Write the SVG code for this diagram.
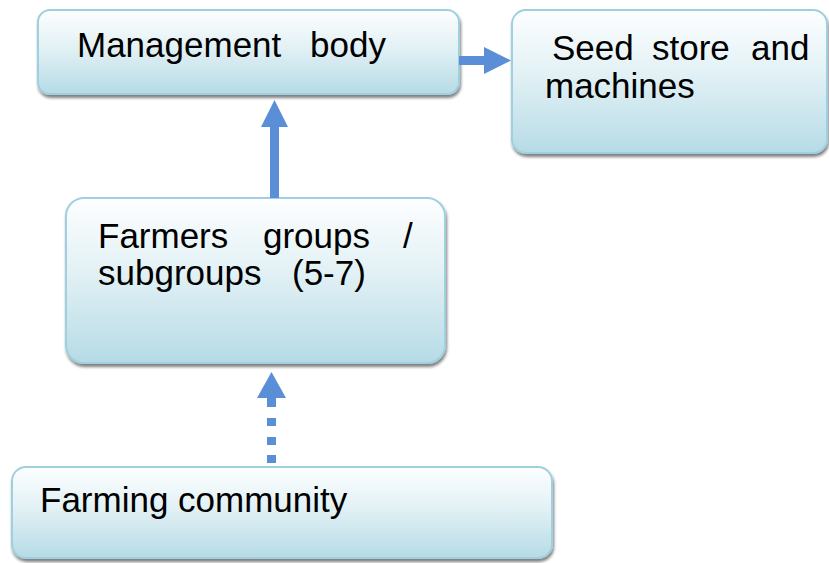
<svg xmlns="http://www.w3.org/2000/svg" width="829" height="563" viewBox="0 0 829 563">
<style>
.box{fill:url(#g);stroke:#9fd0df;stroke-width:2;filter:url(#sh)}
.t{font-family:"Liberation Sans",Arial,sans-serif;font-size:35px;fill:#000}
.arr{fill:#5a8fd8}
</style>
<defs>
<linearGradient id="g" x1="0" y1="0" x2="0" y2="1">
<stop offset="0" stop-color="#fdfeff"/>
<stop offset="0.45" stop-color="#e2f1f5"/>
<stop offset="1" stop-color="#b6dbe6"/>
</linearGradient>
<filter id="sh" x="-5%" y="-5%" width="110%" height="120%">
<feGaussianBlur in="SourceAlpha" stdDeviation="1.5"/>
<feOffset dx="1" dy="3" result="b"/>
<feComponentTransfer><feFuncA type="linear" slope="0.5"/></feComponentTransfer>
<feMerge><feMergeNode/><feMergeNode in="SourceGraphic"/></feMerge>
</filter>
</defs>
<rect width="829" height="563" fill="#ffffff"/>
<g id="management">
<rect class="box" x="38" y="10" width="421" height="84" rx="12"/>
<text class="t"><tspan x="77" y="57">Management</tspan><tspan x="310" y="57">body</tspan></text>
</g>
<g id="seedstore">
<rect class="box" x="512" y="10" width="315" height="143" rx="14"/>
<text class="t"><tspan x="552" y="60">Seed</tspan><tspan x="652" y="60">store</tspan><tspan x="751" y="60">and</tspan><tspan x="545" y="98">machines</tspan></text>
</g>
<g id="farmers">
<rect class="box" x="66" y="198" width="379" height="165" rx="18"/>
<text class="t"><tspan x="98" y="248">Farmers</tspan><tspan x="263" y="248">groups</tspan><tspan x="403" y="248">/</tspan><tspan x="98" y="285">subgroups</tspan><tspan x="292" y="285">(5-7)</tspan></text>
</g>
<g id="community">
<rect class="box" x="12" y="467" width="540" height="91" rx="14"/>
<text class="t" x="40" y="512">Farming community</text>
</g>
<g id="connectors">
<rect class="arr" x="270" y="126" width="9" height="72"/>
<polygon class="arr" points="274.5,100 288,127 261,127"/>
<rect class="arr" x="459" y="56" width="26" height="9"/>
<polygon class="arr" points="511,60.5 484,47 484,74"/>
<rect class="arr" x="267" y="397" width="9" height="10"/>
<polygon class="arr" points="271.5,372 286,398 257,398"/>
<rect class="arr" x="267" y="418" width="9" height="8"/>
<rect class="arr" x="267" y="437" width="9" height="8"/>
<rect class="arr" x="267" y="455" width="9" height="8"/>
</g>
</svg>
